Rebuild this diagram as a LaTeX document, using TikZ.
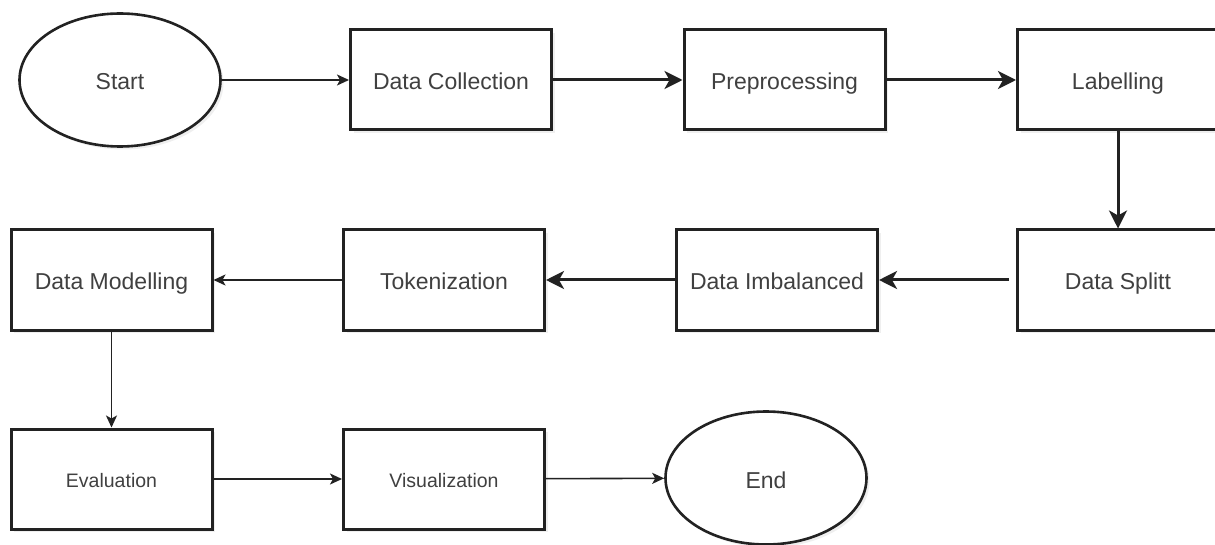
\documentclass[tikz,border=0pt]{standalone}
\usepackage{fontspec}
\setmainfont{Liberation Sans}
\usetikzlibrary{shapes.geometric,arrows.meta,shadows}
\definecolor{ink}{HTML}{222222}
\definecolor{txt}{HTML}{404040}
\tikzset{
  flowbox/.style={draw=ink, line width=3pt, fill=white, rectangle,
    minimum width=201pt, minimum height=100pt, inner sep=0pt,
    text height=20pt, text depth=0pt,
    text=txt, font=\fontsize{23}{26}\selectfont,
    drop shadow={opacity=0.12, shadow xshift=3pt, shadow yshift=-3pt}},
  smallbox/.style={flowbox, font=\fontsize{19.5}{22}\selectfont,
    text height=16pt, text depth=0pt},
  terminal/.style={draw=ink, line width=2.6pt, fill=white, ellipse,
    minimum width=201pt, minimum height=133pt, inner sep=0pt,
    text height=20pt, text depth=0pt,
    text=txt, font=\fontsize{23}{26}\selectfont,
    drop shadow={opacity=0.12, shadow xshift=3pt, shadow yshift=-3pt}},
  thickarrow/.style={draw=ink, line width=3pt, -{Stealth[length=18pt,width=18pt,inset=5pt]}},
  thinarrow/.style={draw=ink, line width=1.6pt, -{Stealth[length=12pt,width=11pt,inset=3pt]}}
}
\begin{document}
\begin{tikzpicture}[x=1pt,y=-1pt]
\useasboundingbox[fill=white] (0,0) rectangle (1215,545);

% first row
\node[terminal] (start) at (120,80) {Start};
\node[flowbox]  (collect) at (451,80) {Data Collection};
\node[flowbox]  (prep) at (784.5,80) {Preprocessing};
\node[flowbox]  (label) at (1118,80) {Labelling};

% second row
\node[flowbox]  (split) at (1118,280) {Data Splitt};
\node[flowbox]  (imbal) at (777,280) {Data Imbalanced};
\node[flowbox]  (token) at (444,280) {Tokenization};
\node[flowbox]  (model) at (111.5,280) {Data Modelling};

% third row
\node[smallbox] (eval) at (111.5,479) {Evaluation};
\node[smallbox] (visual) at (444,479) {Visualization};
\node[terminal] (end) at (766,478) {End};

% connectors
\draw[thinarrow]  (start) -- (collect);
\draw[thickarrow] (collect) -- (prep);
\draw[thickarrow] (prep) -- (label);
\draw[thickarrow] (label) -- (split);
\draw[thickarrow, shorten <=7pt] (split) -- (imbal);
\draw[thickarrow] (imbal) -- (token);
\draw[thinarrow]  (token) -- (model);
\draw[thinarrow]  (model) -- (eval);
\draw[thinarrow]  (eval) -- (visual);
\draw[thinarrow]  (visual) -- (end);
\end{tikzpicture}
\end{document}
